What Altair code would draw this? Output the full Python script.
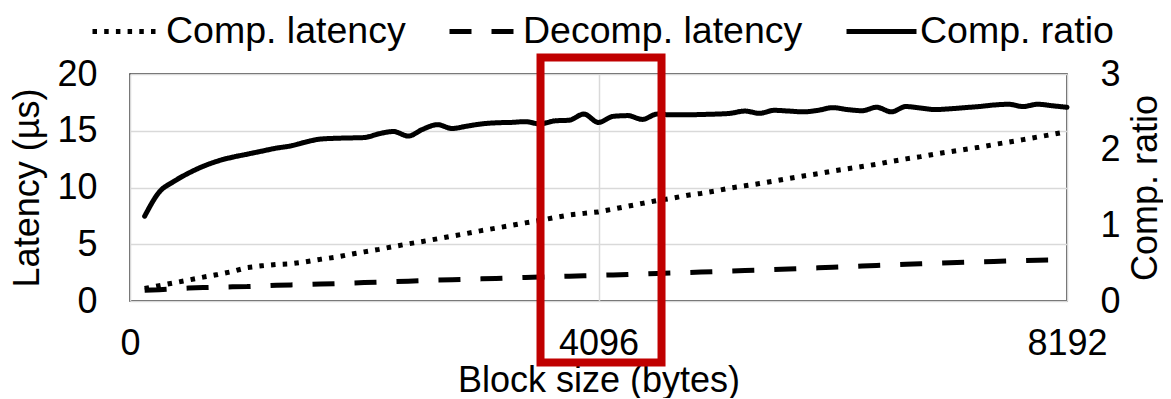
import altair as alt
import pandas as pd

# ---- data ----
block_sizes = list(range(128, 8193, 128))  # 128 .. 8192 bytes

comp_latency = [
    1.10, 1.35, 1.60, 1.85, 2.10, 2.33, 2.60, 2.95, 3.10, 3.22,
    3.28, 3.45, 3.67, 3.85, 4.10, 4.33, 4.55, 4.80, 5.03, 5.25,
    5.48, 5.72, 5.95, 6.20, 6.42, 6.65, 6.88, 7.10, 7.35, 7.58,
    7.72, 7.85, 8.10, 8.35, 8.60, 8.85, 9.05, 9.30, 9.48, 9.70,
    9.95, 10.15, 10.35, 10.57, 10.80, 11.02, 11.22, 11.45, 11.65, 11.85,
    12.05, 12.30, 12.52, 12.72, 12.95, 13.15, 13.35, 13.55, 13.78, 14.00,
    14.22, 14.45, 14.68, 14.92,
]

decomp_latency = [
    0.95, 1.00, 1.08, 1.14, 1.18, 1.22, 1.25, 1.27, 1.32, 1.38,
    1.42, 1.45, 1.49, 1.53, 1.58, 1.62, 1.66, 1.70, 1.74, 1.79,
    1.84, 1.87, 1.91, 1.95, 1.98, 2.03, 2.07, 2.11, 2.15, 2.19,
    2.22, 2.26, 2.30, 2.33, 2.38, 2.43, 2.47, 2.51, 2.55, 2.59,
    2.64, 2.68, 2.72, 2.77, 2.82, 2.87, 2.92, 2.97, 3.02, 3.08,
    3.13, 3.18, 3.23, 3.28, 3.33, 3.37, 3.41, 3.45, 3.48, 3.52,
    3.56, 3.60, 3.62, 3.65,
]

comp_ratio = [
    1.12, 1.44, 1.58, 1.69, 1.78, 1.85, 1.90, 1.94, 1.98, 2.02,
    2.05, 2.10, 2.14, 2.15, 2.155, 2.16, 2.21, 2.24, 2.18, 2.27,
    2.33, 2.28, 2.31, 2.34, 2.355, 2.36, 2.37, 2.34, 2.38, 2.39,
    2.47, 2.36, 2.44, 2.45, 2.40, 2.47, 2.46, 2.46, 2.465, 2.47,
    2.48, 2.51, 2.48, 2.52, 2.51, 2.50, 2.52, 2.555, 2.53, 2.515,
    2.56, 2.50, 2.57, 2.55, 2.53, 2.54, 2.555, 2.57, 2.59, 2.60,
    2.57, 2.60, 2.58, 2.56,
]

series_names = ["Comp. latency", "Decomp. latency", "Comp. ratio"]
x_ticks = [0, 4096, 8192]
lat_ticks = [0, 5, 10, 15, 20]
ratio_ticks = [0, 1, 2, 3]

# highlight box (data units: bytes / latency)
box_x = [3589]
box_x2 = [4647]
box_y = [-5.42]
box_y2 = [21.45]

# ---- tables ----
lat_df = pd.DataFrame({
    "block": block_sizes * 2,
    "value": comp_latency + decomp_latency,
    "series": [series_names[0]] * len(block_sizes) + [series_names[1]] * len(block_sizes),
})
ratio_df = pd.DataFrame({
    "block": block_sizes,
    "value": comp_ratio,
    "series": [series_names[2]] * len(block_sizes),
})
box_df = pd.DataFrame({"x": box_x, "x2": box_x2, "y": box_y, "y2": box_y2})

FONT = "Liberation Sans"
FS = 36

x_enc = alt.X(
    "block:Q",
    scale=alt.Scale(domain=[0, 8192], nice=False, zero=False),
    axis=alt.Axis(
        values=x_ticks, format="d", title="Block size (bytes)",
        grid=True, gridColor="#d9d9d9", gridWidth=1.5,
        ticks=False, domain=False, labelPadding=25, titlePadding=2,
        labelFlush=False,
    ),
)

dash = alt.StrokeDash(
    "series:N",
    scale=alt.Scale(domain=series_names, range=[[4.5, 7.2], [22, 20], [1, 0]]),
    legend=alt.Legend(
        title=None, orient="none", legendX=-40, legendY=-80,
        direction="horizontal", symbolType="stroke", symbolSize=4900,
        symbolStrokeWidth=5, symbolStrokeColor="black",
        labelFontSize=37.5, labelFont=FONT, labelColor="black",
        labelOffset=1, columnPadding=33, labelLimit=0,
    ),
)

lat_lines = alt.Chart(lat_df).mark_line(
    color="black", strokeWidth=5, strokeCap="butt", strokeJoin="round"
).encode(
    x=x_enc,
    y=alt.Y(
        "value:Q",
        scale=alt.Scale(domain=[0, 20], nice=False),
        axis=alt.Axis(
            values=lat_ticks, title="Latency (µs)", orient="left",
            grid=True, gridColor="#d9d9d9", gridWidth=1.5,
            ticks=False, domain=False, labelPadding=33, titlePadding=10,
        ),
    ),
    strokeDash=dash,
    detail="series:N",
)

ratio_line = alt.Chart(ratio_df).mark_line(
    color="black", strokeWidth=5, strokeCap="round", strokeJoin="round",
    interpolate="monotone",
).encode(
    x=x_enc,
    y=alt.Y(
        "value:Q",
        scale=alt.Scale(domain=[0, 3], nice=False),
        axis=alt.Axis(
            values=ratio_ticks, title="Comp. ratio", orient="right",
            titleAngle=270, titleBaseline="top",
            grid=False, ticks=False, domain=False, labelPadding=33, titlePadding=8,
        ),
    ),
    strokeDash=dash,
)

box = alt.Chart(box_df).mark_rect(
    filled=False, stroke="#C00000", strokeWidth=8, clip=False, fillOpacity=0
).encode(
    x="x:Q",
    x2="x2:Q",
    y=alt.Y("y:Q", scale=alt.Scale(domain=[0, 20], nice=False), axis=None),
    y2="y2:Q",
)

chart = (
    alt.layer(lat_lines, ratio_line, box)
    .resolve_scale(y="independent")
    .properties(
        width=937, height=227,
        autosize=alt.AutoSizeParams(type="none"),
        padding={"left": 122, "top": 66, "right": 96, "bottom": 97},
    )
    .configure_view(stroke="#222222", strokeWidth=1.5)
    .configure_axis(
        labelFont=FONT, titleFont=FONT, labelFontSize=FS, titleFontSize=FS,
        labelColor="black", titleColor="black", titleFontWeight="normal",
    )
    .configure_legend(labelFont=FONT)
)

chart.save("out.html", embed_options={"renderer": "svg", "actions": False})
